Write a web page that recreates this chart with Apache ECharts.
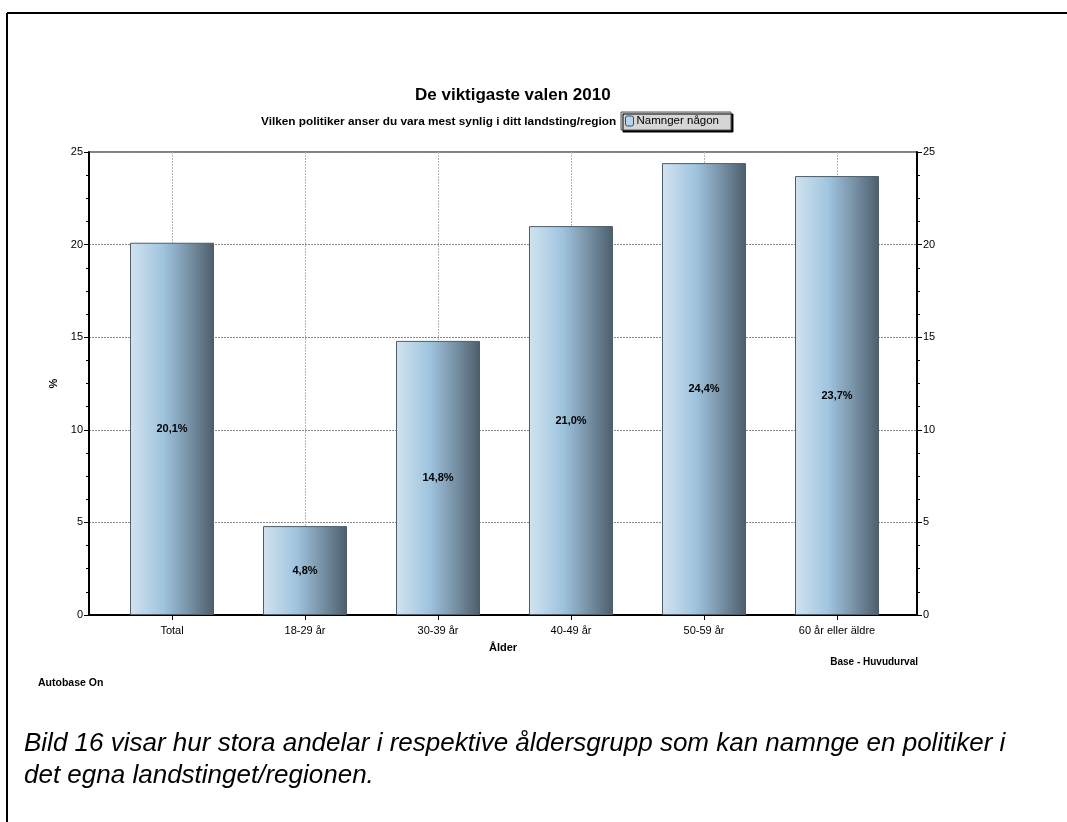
<!DOCTYPE html>
<html>
<head>
<meta charset="utf-8">
<script src="https://cdn.jsdelivr.net/npm/echarts@6/dist/echarts.min.js"></script>
<style>
  html, body { margin: 0; padding: 0; background: #fff; }
  #chart { width: 1067px; height: 822px; }
</style>
</head>
<body>
<div id="chart"></div>
<script>
const categories = ['Total', '18-29 år', '30-39 år', '40-49 år', '50-59 år', '60 år eller äldre'];
const values = [20.1, 4.8, 14.8, 21.0, 24.4, 23.7];
const seriesName = 'Namnger någon';
const yTicks = { min: 0, max: 25, interval: 5 };
const captionLines = [
    'Bild 16 visar hur stora andelar i respektive åldersgrupp som kan namnge en politiker i',
    'det egna landstinget/regionen.'
];

const font = 'Liberation Sans, Arial, sans-serif';

const barGradient = new echarts.graphic.LinearGradient(0, 0, 1, 0, [
    { offset: 0, color: '#d2e3f0' },
    { offset: 0.4, color: '#9fc4de' },
    { offset: 0.7, color: '#7892a6' },
    { offset: 1, color: '#4c5e6c' }
]);

const chart = echarts.init(document.getElementById('chart'));

const sideAxis = (position) => ({
    type: 'value',
    gridIndex: 0,
    position: position,
    min: yTicks.min,
    max: yTicks.max,
    interval: yTicks.interval,
    axisLine: { show: true, lineStyle: { color: '#000', width: 2 } },
    axisTick: { show: true, length: 5, lineStyle: { color: '#000' } },
    minorTick: { show: true, splitNumber: 4, length: 3, lineStyle: { color: '#000' } },
    axisLabel: { color: '#000', fontFamily: font, fontSize: 11, margin: 6 },
    splitLine: {
        show: position === 'left',
        lineStyle: { color: '#8a8a8a', type: [2, 1], width: 1 }
    }
});

chart.setOption({
    animation: false,
    textStyle: { fontFamily: font },
    title: [
        {
            text: 'De viktigaste valen 2010',
            left: 410, top: 82,
            textStyle: { fontSize: 17, fontWeight: 'bold', color: '#000', fontFamily: font }
        },
        {
            text: 'Vilken politiker anser du vara mest synlig i ditt landsting/region',
            left: 256, top: 111,
            textStyle: { fontSize: 11.8, fontWeight: 'bold', color: '#000', fontFamily: font }
        }
    ],
    legend: {
        data: [{ name: seriesName, itemStyle: { color: '#b9d6ec', borderColor: '#3a4a58', borderWidth: 1 } }],
        left: 621, top: 112,
        padding: [3, 12, 3, 4],
        itemWidth: 8, itemHeight: 10,
        itemGap: 4,
        backgroundColor: '#d6d6d6',
        borderColor: '#555',
        borderWidth: 1,
        shadowColor: '#000',
        shadowBlur: 0,
        shadowOffsetX: 2,
        shadowOffsetY: 2,
        textStyle: { fontSize: 11.5, color: '#000', fontFamily: font, padding: [0, 0, 0, -2] },
        selectedMode: false
    },
    grid: [
        { left: 89, right: 150, top: 152, bottom: 207, show: true, borderColor: '#000', borderWidth: 1 },
        { left: 172, right: 230, top: 152, bottom: 207 }
    ],
    xAxis: [
        {
            type: 'value', gridIndex: 0, min: 0, max: 1,
            axisLine: { show: true, lineStyle: { color: '#000', width: 2 } },
            axisTick: { show: false }, axisLabel: { show: false }, splitLine: { show: false },
            name: 'Ålder', nameLocation: 'middle', nameGap: 27,
            nameTextStyle: { fontWeight: 'bold', fontSize: 11, color: '#000', fontFamily: font }
        },
        {
            type: 'category', gridIndex: 1, data: categories, boundaryGap: false,
            axisLine: { show: false },
            axisTick: { show: true, length: 5, lineStyle: { color: '#000' } },
            axisLabel: { color: '#000', fontFamily: font, fontSize: 11, margin: 10 },
            splitLine: { show: true, lineStyle: { color: '#b5b5b5', type: [2, 1], width: 1 } }
        }
    ],
    yAxis: [
        Object.assign(sideAxis('left'), {
            name: '%', nameLocation: 'middle', nameGap: 21,
            nameTextStyle: { fontWeight: 'bold', fontSize: 11, color: '#000', fontFamily: font }
        }),
        sideAxis('right'),
        {
            type: 'value', gridIndex: 1, min: yTicks.min, max: yTicks.max, interval: yTicks.interval,
            show: false
        }
    ],
    series: [
        {
            name: seriesName,
            type: 'bar',
            xAxisIndex: 1,
            yAxisIndex: 2,
            data: values,
            barWidth: 84,
            clip: false,
            itemStyle: { color: barGradient, borderColor: '#4d5d6a', borderWidth: 1 },
            label: {
                show: true,
                position: 'inside',
                formatter: (p) => p.value.toFixed(1).replace('.', ',') + '%',
                fontWeight: 'bold', fontSize: 11, color: '#000', fontFamily: font
            }
        }
    ],
    graphic: [
        { type: 'line', shape: { x1: 7, y1: 13, x2: 1067, y2: 13 }, style: { stroke: '#000', lineWidth: 2 } },
        { type: 'line', shape: { x1: 7, y1: 13, x2: 7, y2: 822 }, style: { stroke: '#000', lineWidth: 2 } },
        {
            type: 'text', right: 149, top: 657,
            style: { text: 'Base - Huvudurval', font: 'bold 10px ' + font, fill: '#000' }
        },
        {
            type: 'text', left: 38, top: 678,
            style: { text: 'Autobase On', font: 'bold 10.5px ' + font, fill: '#000' }
        },
        {
            type: 'text', left: 24, top: 728,
            style: {
                text: captionLines.join('\n'),
                fontStyle: 'italic', fontSize: 26, fontFamily: font,
                fill: '#000', lineHeight: 32
            }
        }
    ]
});

window.addEventListener('resize', () => chart.resize());
</script>
</body>
</html>
